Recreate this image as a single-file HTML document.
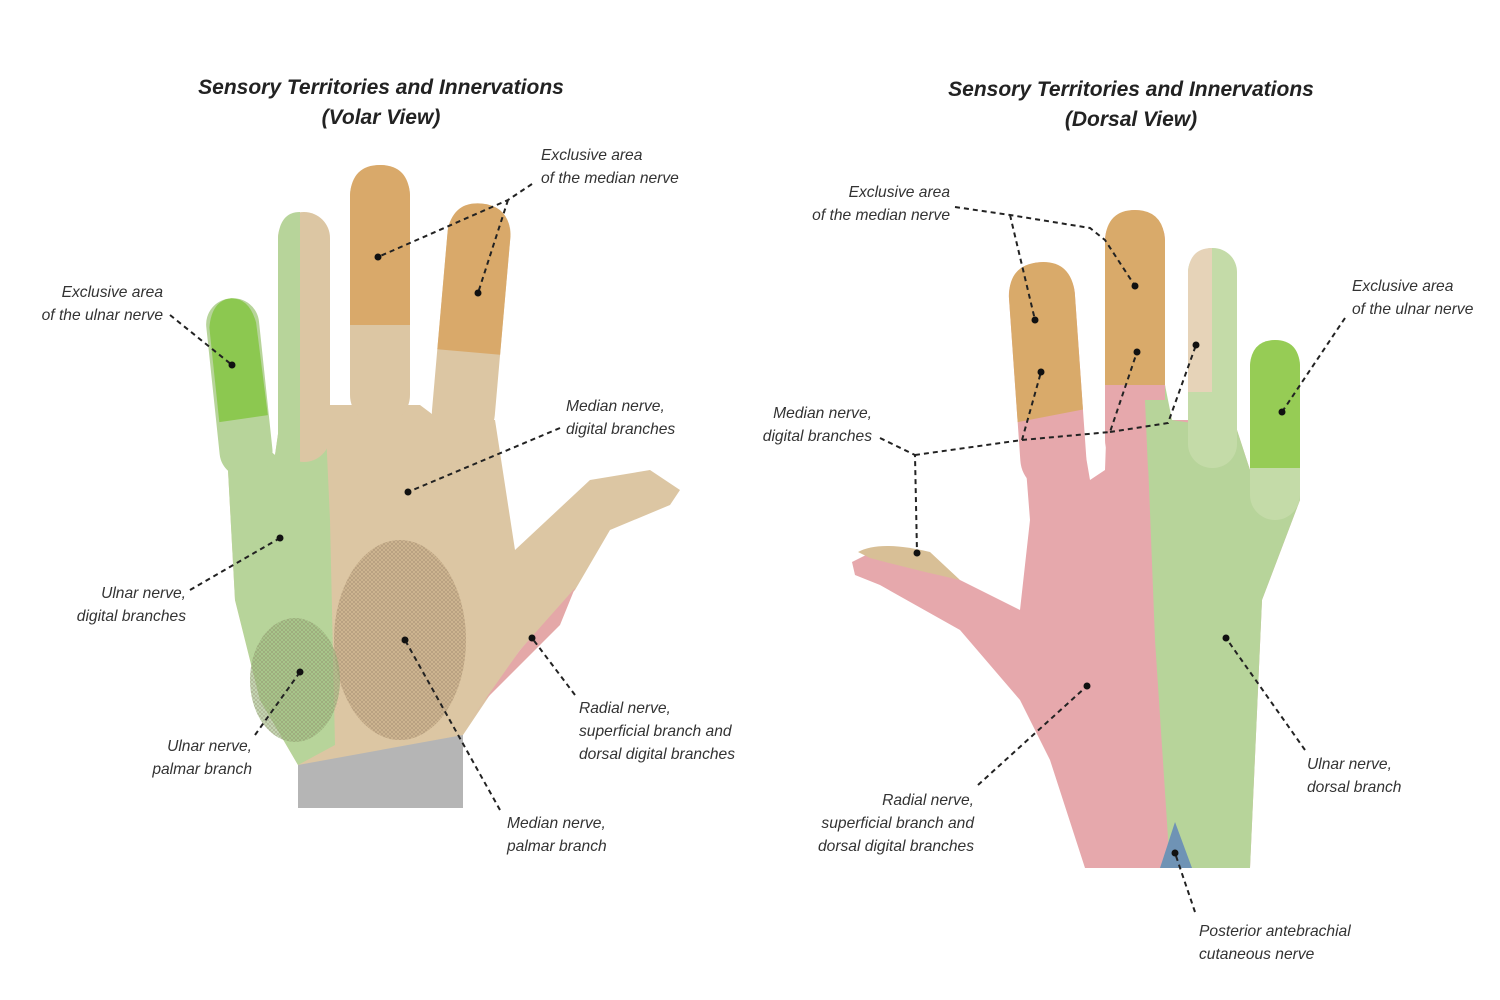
<!DOCTYPE html>
<html><head><meta charset="utf-8"><style>
body{margin:0;background:#fff}
svg{display:block}
text{font-family:"Liberation Sans",sans-serif;font-style:italic;font-size:15.6px;fill:#333}
.t{font-weight:bold;font-size:21px;fill:#222}
.l{stroke:#222;stroke-width:2;stroke-dasharray:5,4;fill:none}
</style></head><body>
<svg width="1500" height="1000" viewBox="0 0 1500 1000">
<defs>
<pattern id="hat" width="4" height="4" patternUnits="userSpaceOnUse"><path d="M0 0L4 4M4 0L0 4" stroke="#8a7560" stroke-width="0.6" opacity="0.5"/></pattern>
</defs>
<text class="t" x="381" y="94" text-anchor="middle">Sensory Territories and Innervations</text>
<text class="t" x="381" y="124" text-anchor="middle">(Volar View)</text>
<text class="t" x="1131" y="96" text-anchor="middle">Sensory Territories and Innervations</text>
<text class="t" x="1131" y="126" text-anchor="middle">(Dorsal View)</text>

<!-- LEFT HAND -->
<rect x="298" y="725" width="165" height="83" fill="#b5b5b5"/>
<path d="M228,470 L232,420 L275,455 L280,420 L330,405 L420,405 L440,420 L495,420 L515,550 L590,480 L650,470 L680,490 L670,505 L610,530 L575,590 L520,650 L463,735 L298,765 L260,700 L235,600 Z" fill="#dcc6a3"/>
<path d="M228,470 L232,420 L275,455 L280,420 L325,410 L330,520 L335,745 L298,765 L260,700 L235,600 Z" fill="#b7d49a"/>
<path d="M575,588 L520,650 L465,728 L485,700 L560,625 Z" fill="#e4a8a8"/>
<rect x="212" y="298" width="53" height="180" rx="26" fill="#b7d49a" transform="rotate(-6 238 380)"/>
<path d="M215,420 L215,325 Q220,298 240,298 Q258,300 262,325 L264,418 Z" fill="#8cc850" transform="rotate(-6 238 380)"/>
<rect x="278" y="212" width="52" height="250" rx="26" fill="#dcc6a3"/>
<path d="M278,238 Q280,212 300,212 L300,462 L278,462 Z" fill="#b7d49a"/>
<rect x="350" y="165" width="60" height="260" rx="30" fill="#dcc6a3"/>
<path d="M350,325 L350,195 Q352,165 380,165 Q408,165 410,195 L410,325 Z" fill="#d9a96a"/>
<rect x="440" y="203" width="63" height="240" rx="30" fill="#dcc6a3" transform="rotate(5 470 320)"/>
<path d="M440,352 L440,233 Q443,203 471,203 Q500,203 503,233 L503,352 Z" fill="#d9a96a" transform="rotate(5 470 320)"/>
<ellipse cx="400" cy="640" rx="66" ry="100" fill="#c6ab86" opacity="0.6"/>
<ellipse cx="400" cy="640" rx="66" ry="100" fill="url(#hat)"/>
<ellipse cx="295" cy="680" rx="45" ry="62" fill="#9fbf83" opacity="0.6"/>
<ellipse cx="295" cy="680" rx="45" ry="62" fill="url(#hat)"/>

<!-- RIGHT HAND -->
<path d="M1085,868 L1050,760 L1020,700 L960,630 L880,585 L855,575 L852,562 L880,548 L960,580 L1020,610 L1030,520 L1022,418 L1078,410 L1090,480 L1105,470 L1108,385 L1165,385 L1170,420 L1188,420 L1237,430 L1250,470 L1300,470 L1300,500 L1262,600 L1250,868 Z" fill="#e6a8ac"/>
<path d="M1145,385 L1165,385 L1172,420 L1237,430 L1250,470 L1300,470 L1300,500 L1262,600 L1250,868 L1170,868 L1155,640 Z" fill="#b7d49a"/>
<path d="M1160,868 L1175,822 L1192,868 Z" fill="#6f93b5"/>
<g transform="rotate(-4 1045 340)">
<rect x="1012" y="262" width="66" height="230" rx="33" fill="#e6a8ac"/>
<path d="M1012,420 L1012,295 Q1014,262 1045,262 Q1076,262 1078,295 L1078,412 Z" fill="#d9aa6a"/>
</g>
<rect x="1105" y="210" width="60" height="260" rx="30" fill="#e6a8ac"/>
<path d="M1145,400 L1165,400 L1168,470 L1148,470 Z" fill="#b7d49a"/>
<path d="M1105,385 L1105,240 Q1107,210 1135,210 Q1163,210 1165,240 L1165,385 Z" fill="#d9aa6a"/>
<rect x="1188" y="248" width="49" height="220" rx="24" fill="#c4dba8"/>
<path d="M1188,392 L1188,272 Q1190,248 1212,248 L1212,392 Z" fill="#e6d3b8"/>
<rect x="1250" y="340" width="50" height="180" rx="25" fill="#c4dba8"/>
<path d="M1250,468 L1250,365 Q1252,340 1275,340 Q1298,340 1300,365 L1300,468 Z" fill="#96cc55"/>
<path d="M858,552 Q880,540 930,552 L960,580 Q915,570 870,558 Z" fill="#d8bf96"/>

<!-- leaders left -->
<path class="l" d="M532,184 L508,200 L378,257 M508,200 L478,293"/>
<path class="l" d="M170,315 L232,365"/>
<path class="l" d="M560,428 L408,492"/>
<path class="l" d="M190,590 L280,538"/>
<path class="l" d="M255,735 L300,672"/>
<path class="l" d="M500,810 L405,640"/>
<path class="l" d="M575,695 L532,638"/>
<!-- leaders right -->
<path class="l" d="M955,207 L1010,215 L1090,228 L1105,240 L1135,286 M1010,215 L1035,320"/>
<path class="l" d="M880,438 L915,455 L917,553 M915,455 L1022,440 L1041,372 M1022,440 L1110,432 L1137,352 M1110,432 L1168,423 L1196,345"/>
<path class="l" d="M1345,318 L1282,412"/>
<path class="l" d="M1305,750 L1226,638"/>
<path class="l" d="M978,785 L1087,686"/>
<path class="l" d="M1195,912 L1175,853"/>
<g fill="#111">
<circle cx="378" cy="257" r="3.5"/><circle cx="478" cy="293" r="3.5"/><circle cx="232" cy="365" r="3.5"/><circle cx="408" cy="492" r="3.5"/><circle cx="280" cy="538" r="3.5"/><circle cx="300" cy="672" r="3.5"/><circle cx="405" cy="640" r="3.5"/><circle cx="532" cy="638" r="3.5"/>
<circle cx="1135" cy="286" r="3.5"/><circle cx="1035" cy="320" r="3.5"/><circle cx="917" cy="553" r="3.5"/><circle cx="1041" cy="372" r="3.5"/><circle cx="1137" cy="352" r="3.5"/><circle cx="1196" cy="345" r="3.5"/><circle cx="1282" cy="412" r="3.5"/><circle cx="1226" cy="638" r="3.5"/><circle cx="1087" cy="686" r="3.5"/><circle cx="1175" cy="853" r="3.5"/>
</g>

<!-- labels left -->
<text x="541" y="160">Exclusive area</text><text x="541" y="183">of the median nerve</text>
<text x="163" y="297" text-anchor="end">Exclusive area</text><text x="163" y="320" text-anchor="end">of the ulnar nerve</text>
<text x="566" y="411">Median nerve,</text><text x="566" y="434">digital branches</text>
<text x="186" y="598" text-anchor="end">Ulnar nerve,</text><text x="186" y="621" text-anchor="end">digital branches</text>
<text x="252" y="751" text-anchor="end">Ulnar nerve,</text><text x="252" y="774" text-anchor="end">palmar branch</text>
<text x="507" y="828">Median nerve,</text><text x="507" y="851">palmar branch</text>
<text x="579" y="713">Radial nerve,</text><text x="579" y="736">superficial branch and</text><text x="579" y="759">dorsal digital branches</text>
<!-- labels right -->
<text x="950" y="197" text-anchor="end">Exclusive area</text><text x="950" y="220" text-anchor="end">of the median nerve</text>
<text x="872" y="418" text-anchor="end">Median nerve,</text><text x="872" y="441" text-anchor="end">digital branches</text>
<text x="1352" y="291">Exclusive area</text><text x="1352" y="314">of the ulnar nerve</text>
<text x="1307" y="769">Ulnar nerve,</text><text x="1307" y="792">dorsal branch</text>
<text x="974" y="805" text-anchor="end">Radial nerve,</text><text x="974" y="828" text-anchor="end">superficial branch and</text><text x="974" y="851" text-anchor="end">dorsal digital branches</text>
<text x="1199" y="936">Posterior antebrachial</text><text x="1199" y="959">cutaneous nerve</text>
</svg>
</body></html>
